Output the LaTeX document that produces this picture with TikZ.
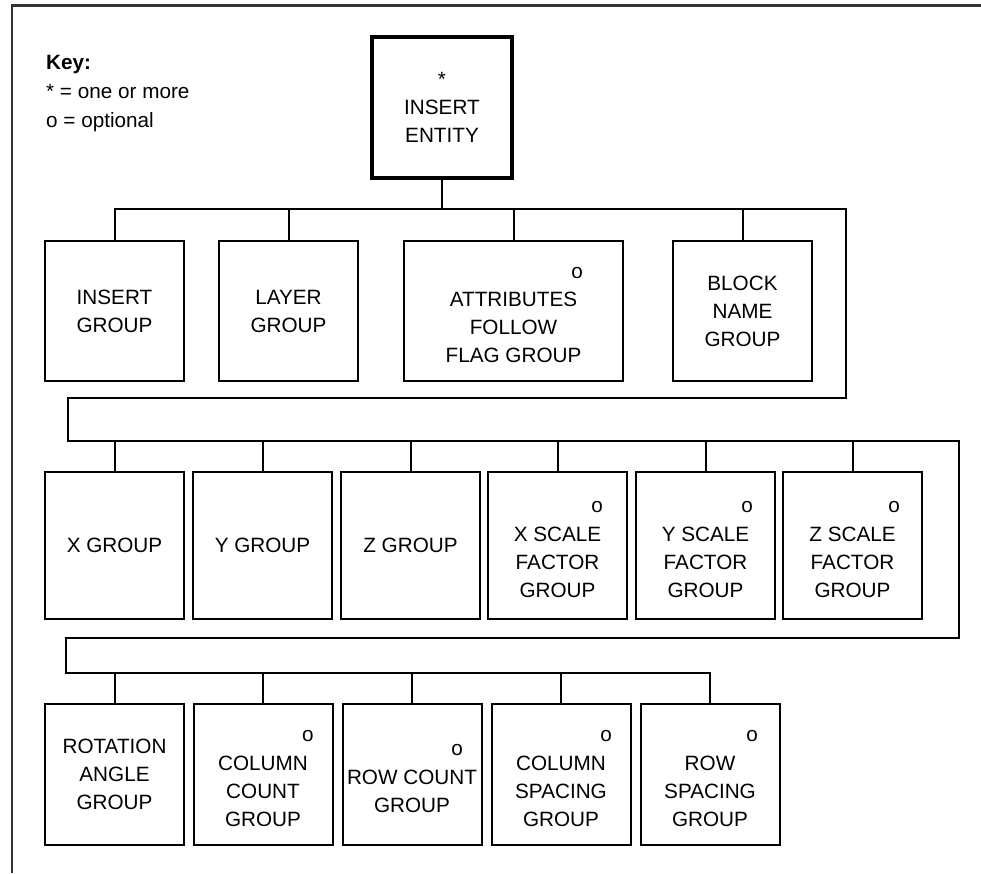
\documentclass[tikz,border=0pt]{standalone}
\usepackage{fontspec}
\setmainfont{Liberation Sans}
\usetikzlibrary{positioning}

\tikzset{
  grp/.style={draw, line width=2pt, minimum width=139pt, minimum height=141pt, align=center, inner sep=2pt},
  wire/.style={line width=2pt},
  optmark/.style={inner sep=0pt},
}

\begin{document}
\begin{tikzpicture}[x=1pt, y=-1pt, font=\fontsize{20.7}{28}\selectfont]
    \useasboundingbox (0,0) rectangle (981,873);
    \draw[black!80, line width=2.5pt] (12,873) -- (12,5.5) -- (981,5.5);

    % key
    \node[anchor=north west, align=left, inner sep=0pt, font=\fontsize{20.7}{29}\selectfont] (key) at (46,55) {\textbf{Key:}\\* = one or more\\o = optional};

    \node[grp, line width=4pt, minimum width=140pt] (entity) at (442,107.5) {*\\INSERT\\ENTITY};

    % first row
    \node[grp, minimum height=140pt] (insgrp) at (114.5,311) {INSERT\\GROUP};
    \node[grp, minimum height=140pt] (layer) at (288.5,311) {LAYER\\GROUP};
    \node[grp, minimum height=140pt, minimum width=219pt] (attr) at (513.5,311) {\strut\\ATTRIBUTES\\FOLLOW\\FLAG GROUP};
    \node[grp, minimum height=140pt] (block) at (742.5,311) {BLOCK\\NAME\\GROUP};

    % second row
    \node[grp, minimum height=147pt] (xgrp) at (114.5,545.5) {X GROUP};
    \node[grp, minimum height=147pt] (ygrp) at (262.5,545.5) {Y GROUP};
    \node[grp, minimum height=147pt] (zgrp) at (410.5,545.5) {Z GROUP};
    \node[grp, minimum height=147pt] (xsf) at (557.5,545.5) {\strut\\X SCALE\\FACTOR\\GROUP};
    \node[grp, minimum height=147pt] (ysf) at (705.5,545.5) {\strut\\Y SCALE\\FACTOR\\GROUP};
    \node[grp, minimum height=147pt] (zsf) at (852.5,545.5) {\strut\\Z SCALE\\FACTOR\\GROUP};

    % third row
    \node[grp] (rot) at (114.5,774.5) {ROTATION\\ANGLE\\GROUP};
    \node[grp] (colcnt) at (263,774.5) {\strut\\COLUMN\\COUNT\\GROUP};
    \node[grp] (rowcnt) at (412,774.5) {\strut\\ROW COUNT\\GROUP};
    \node[grp] (colsp) at (561,774.5) {\strut\\COLUMN\\SPACING\\GROUP};
    \node[grp] (rowsp) at (710,774.5) {\strut\\ROW\\SPACING\\GROUP};

    % optional marks
    \node[optmark] (attr-o) at (577,273) {o};
    \node[optmark] (xsf-o) at (597,507) {o};
    \node[optmark] (ysf-o) at (747,507) {o};
    \node[optmark] (zsf-o) at (894,507) {o};
    \node[optmark] (colcnt-o) at (308,736) {o};
    \node[optmark] (rowcnt-o) at (457,750) {o};
    \node[optmark] (colsp-o) at (606,736) {o};
    \node[optmark] (rowsp-o) at (752,736) {o};

    % bus lines
    \coordinate (r1) at (846,209);
    \coordinate (l1) at (68,398);
    \coordinate (r2) at (959,441);
    \coordinate (l2) at (66,638);
    \coordinate (b3) at (710,673);
    \draw[wire] (insgrp.north) |- (r1) -- (r1 |- l1) -- (l1) -- (l1 |- r2) -- (r2) -- (r2 |- l2) -- (l2) -- (l2 |- b3) -- (b3) -- (rowsp.north);
    \draw[wire] (entity.south) -- (entity.south |- r1);
    \foreach \b in {layer,attr,block}
        \draw[wire] (\b.north) -- (\b.north |- r1);
    \foreach \b in {xgrp,ygrp,zgrp,xsf,ysf,zsf}
        \draw[wire] (\b.north) -- (\b.north |- r2);
    \foreach \b in {rot,colcnt,rowcnt,colsp}
        \draw[wire] (\b.north) -- (\b.north |- b3);
\end{tikzpicture}
\end{document}
